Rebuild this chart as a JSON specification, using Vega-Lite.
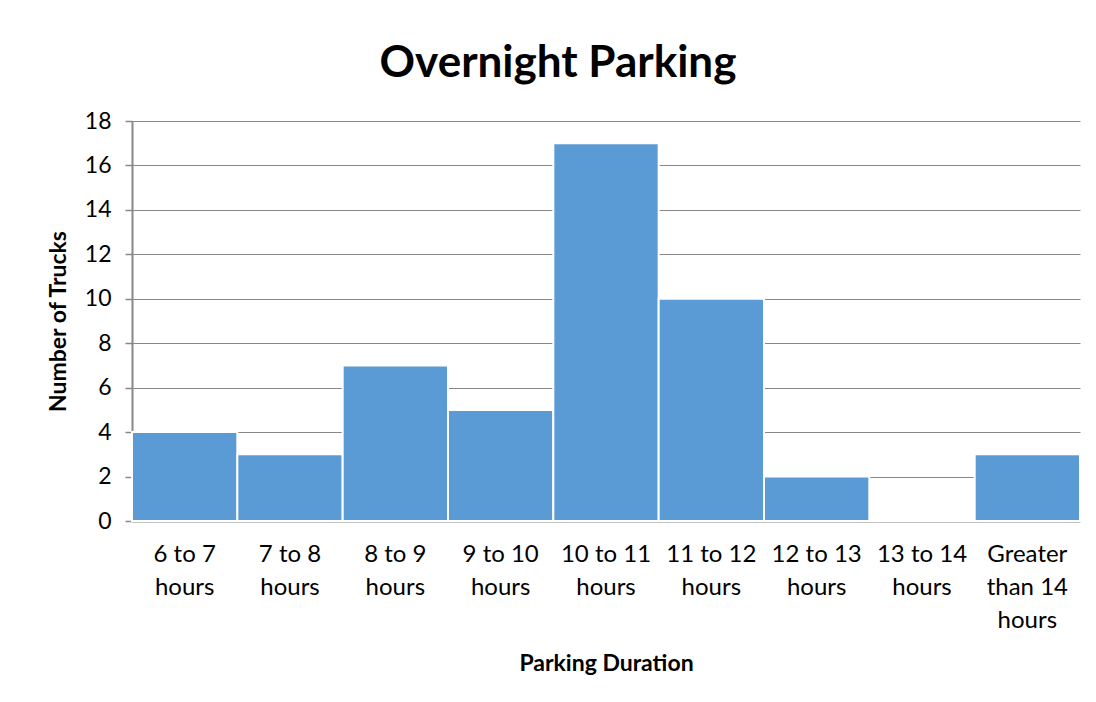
{
  "$schema": "https://vega.github.io/schema/vega-lite/v6.json",
  "width": 948,
  "height": 400,
  "autosize": {"type": "none"},
  "padding": {"left": 132, "top": 121, "right": 16, "bottom": 181},
  "background": "white",
  "config": {
    "view": {"stroke": null},
    "font": "Lato"
  },
  "title": {
    "text": "Overnight Parking",
    "font": "Lato",
    "fontSize": 44,
    "fontWeight": "bold",
    "color": "#000000",
    "anchor": "middle",
    "dx": -48,
    "offset": 24
  },
  "data": {
    "values": [
      {"duration": "6 to 7|hours", "trucks": 4},
      {"duration": "7 to 8|hours", "trucks": 3},
      {"duration": "8 to 9|hours", "trucks": 7},
      {"duration": "9 to 10|hours", "trucks": 5},
      {"duration": "10 to 11|hours", "trucks": 17},
      {"duration": "11 to 12|hours", "trucks": 10},
      {"duration": "12 to 13|hours", "trucks": 2},
      {"duration": "13 to 14|hours", "trucks": 0},
      {"duration": "Greater|than 14|hours", "trucks": 3}
    ]
  },
  "mark": {"type": "bar", "color": "#5B9BD5", "stroke": "white", "strokeWidth": 2},
  "encoding": {
    "x": {
      "field": "duration",
      "type": "nominal",
      "sort": null,
      "scale": {"paddingInner": 0, "paddingOuter": 0},
      "axis": {
        "title": "Parking Duration",
        "titleFont": "Lato",
        "titleFontSize": 23,
        "titleFontWeight": "bold",
        "titleColor": "#000000",
        "titlePadding": 20,
        "labelExpr": "split(datum.value, '|')",
        "labelAngle": 0,
        "labelFont": "Lato",
        "labelFontSize": 24,
        "labelColor": "#000000",
        "labelLineHeight": 33,
        "labelPadding": 21,
        "labelBaseline": "top",
        "ticks": false,
        "domainColor": "#888888",
        "domainWidth": 2,
        "grid": false
      }
    },
    "y": {
      "field": "trucks",
      "type": "quantitative",
      "scale": {"domain": [0, 18], "nice": false},
      "axis": {
        "title": "Number of Trucks",
        "titleFont": "Lato",
        "titleFontSize": 23,
        "titleFontWeight": "bold",
        "titleColor": "#000000",
        "titlePadding": 14,
        "values": [0, 2, 4, 6, 8, 10, 12, 14, 16, 18],
        "labelFont": "Lato",
        "labelFontSize": 23,
        "labelColor": "#000000",
        "labelPadding": 14,
        "tickSize": 7,
        "tickColor": "#888888",
        "tickWidth": 1.5,
        "domainColor": "#888888",
        "domainWidth": 2,
        "gridColor": "#888888",
        "gridWidth": 1.2
      }
    }
  }
}
